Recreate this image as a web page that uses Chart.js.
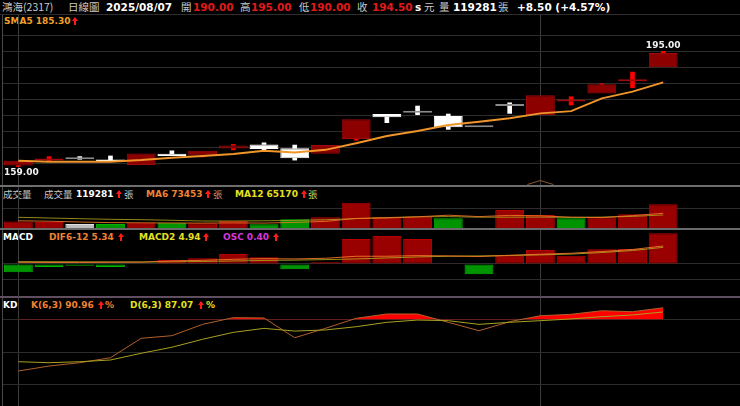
<!DOCTYPE html>
<html><head><meta charset="utf-8">
<script src="https://cdn.jsdelivr.net/npm/chart.js@4.4.1/dist/chart.umd.min.js"></script>
<style>
html,body{margin:0;padding:0;background:#000;}
body{width:740px;height:406px;position:relative;overflow:hidden;}
canvas{position:absolute;}
.t{position:absolute;white-space:nowrap;line-height:12px;}
.ln{position:absolute;}
.ar{position:absolute;width:6px;height:8px;}
.ar .h{position:absolute;left:0;top:0;width:0;height:0;border-left:3px solid transparent;border-right:3px solid transparent;border-bottom:4px solid #ff1a1a;}
.ar .s{position:absolute;left:2px;top:4px;width:2px;height:4px;background:#ff1a1a;}
</style></head><body>
<div id="ui"></div>
<canvas id="cPrice" width="737" height="170" style="left:3px;top:15px"></canvas>
<canvas id="cVol" width="737" height="41" style="left:3px;top:187px"></canvas>
<canvas id="cMacd" width="737" height="67" style="left:3px;top:230px"></canvas>
<canvas id="cKd" width="737" height="108" style="left:3px;top:298px"></canvas>
<script>
// ---------------- data ----------------
const stockName = '鴻海(2317)';
const year = '2025';
const dates = ['07/09','07/10','07/11','07/14','07/15','07/16','07/17','07/18','07/21','07/22','07/23',
               '07/24','07/25','07/28','07/29','07/30','07/31','08/01','08/04','08/05','08/06','08/07'];
const open  = [159.3,160.9,161.25,161.1,159.5,163.0,162.4,164.6,165.9,164.7,163.0,167.6,175.4,175.8,174.8,171.25,177.9,175.0,179.3,181.8,185.6,190.0];
const high  = [160.8,162.1,162.1,162.3,163.1,163.9,163.9,165.9,166.4,165.7,165.7,173.8,175.4,177.9,175.4,171.25,178.9,181.3,180.8,184.9,188.5,195.0];
const low   = [159.0,160.5,161.25,160.6,159.5,162.3,162.0,164.2,164.2,161.0,163.0,167.2,172.7,175.2,170.6,171.25,175.6,175.0,178.2,181.8,183.6,190.0];
const close = [160.8,161.25,161.25,160.6,163.1,162.3,163.9,165.6,164.5,161.6,165.7,173.8,174.4,175.8,171.25,171.25,177.9,181.3,179.7,184.7,186.0,194.5];
const sma5  = [160.8,160.5,160.5,160.5,161.0,161.75,162.3,162.9,163.9,163.4,164.2,166.25,168.5,170.1,172.0,173.0,174.05,175.6,176.3,180.3,182.4,185.3];
const volume  = [32000,30000,20000,20000,26500,26500,23500,35000,18500,43500,53500,126500,56500,56500,48500,0,90000,65000,48500,53500,68500,119281];
const volMA6  = [36000,34000,30000,27000,26000,25000,24500,25500,24500,28000,33000,48000,50000,56000,64000,57000,63000,61000,54000,52000,62000,73453];
const volMA12 = [53500,50000,46500,43500,41500,38500,35000,35000,36000,38000,41000,47000,52000,56000,57000,54000,54000,54500,53000,54500,58000,65170];
const dif   = [0.5,0.45,0.45,0.5,0.55,0.9,1.1,1.4,1.6,1.5,1.7,2.3,2.3,2.5,2.4,2.2,2.6,2.9,3.2,3.7,4.3,5.34];
const macd2 = [0.7,0.68,0.65,0.62,0.6,0.65,0.75,0.9,1.05,1.15,1.3,1.5,1.8,2.1,2.3,2.4,2.5,2.7,2.95,3.4,4.0,4.94];
const osc   = [-0.108,-0.039,-0.022,-0.039,0.007,0.052,0.074,0.130,0.087,-0.069,0.022,0.326,0.365,0.326,0.009,-0.134,0.108,0.182,0.108,0.192,0.195,0.40];
const kVal  = [32.4,37.0,40.1,44.7,62.7,65.1,75.6,81.8,81.5,63.2,71.9,81.2,85.2,85.2,77.5,69.7,78.1,83.6,84.9,88.2,87.3,90.96];
const dVal  = [41.0,40.1,41.0,42.6,48.8,54.4,61.8,68.2,71.9,69.4,70.4,73.4,77.5,79.6,79.0,75.6,77.5,79.0,80.6,82.7,84.3,87.07];
const emptySlots = ['', ''];
const priceGrid = [160,165,170,175,180,185,190,195,200];
const volGrid = [100000];
const macdGrid = [0,-0.2];
const kdGrid = [20,50,80];
// --------------------------------------

const last = close.length - 1;
const xLabels = dates.concat(emptySlots);

function put(x, cy, s, color, size, bold, fam){
  const d = document.createElement('div');
  d.className = 't';
  d.textContent = s;
  d.style.left = x + 'px';
  d.style.top = (cy - 6) + 'px';
  d.style.color = color;
  d.style.fontSize = size + 'px';
  d.style.fontWeight = bold ? 'bold' : 'normal';
  d.style.fontFamily = fam || '"DejaVu Sans", sans-serif';
  document.getElementById('ui').appendChild(d);
}
const CJK = '"Noto Sans CJK TC", sans-serif';
function arrow(x, cy){
  const d = document.createElement('div');
  d.className = 'ar';
  d.style.left = x + 'px'; d.style.top = (cy - 4) + 'px';
  d.innerHTML = '<div class="h"></div><div class="s"></div>';
  document.getElementById('ui').appendChild(d);
}
function hline(x, y, w, h, c){ const d=document.createElement('div'); d.className='ln'; d.style.cssText+=`left:${x}px;top:${y}px;width:${w}px;height:${h}px;background:${c}`; document.getElementById('ui').appendChild(d); }

// frame lines
hline(0, 14, 740, 1, '#2e2e2e');
hline(2, 15, 1, 391, '#4a4a4a');
hline(0, 185, 740, 2, '#6e6e6e');
hline(0, 228, 740, 2, '#6a6a6a');
hline(0, 296, 740, 2, '#5e4e60');

// header
const grey = '#c8c8c8', red = '#e01a1a';
put(2, 7, stockName, grey, 10.5, false, CJK);
put(68, 7, '日線圖', grey, 10.5, false, CJK);
put(106, 7, year + '/' + dates[last], '#ffffff', 10.5, true);
put(181, 7, '開', grey, 10.5, false, CJK);
put(193, 7, open[last].toFixed(2), red, 10.5, true);
put(240, 7, '高', grey, 10.5, false, CJK);
put(251, 7, high[last].toFixed(2), red, 10.5, true);
put(299, 7, '低', grey, 10.5, false, CJK);
put(310, 7, low[last].toFixed(2), red, 10.5, true);
put(357, 7, '收', grey, 10.5, false, CJK);
put(372, 7, close[last].toFixed(2), red, 10.5, true);
put(415, 7, 's', '#ffffff', 10.5, true);
put(424, 7, '元', grey, 10.5, false, CJK);
put(439, 7, '量', grey, 10.5, false, CJK);
put(453, 7, String(volume[last]), '#ffffff', 10.5, true);
put(498, 7, '張', grey, 10.5, false, CJK);
const chg = close[last] - close[last-1];
put(517, 7, (chg>=0?'+':'') + chg.toFixed(2) + ' (' + (chg>=0?'+':'') + (chg/close[last-1]*100).toFixed(2) + '%)', '#ffffff', 10.5, true);

// panel labels
const orange = '#f08232', yellow = '#e6e020', smaCol = '#f0a02a';
put(4, 21, 'SMA5 ' + sma5[last].toFixed(2), smaCol, 9, true); arrow(72, 21);
put(3, 194, '成交量', grey, 9.5, false, CJK);
put(44, 194, '成交量', grey, 9.5, false, CJK);
put(76, 194, String(volume[last]), '#ffffff', 9, true); arrow(116, 194);
put(124, 194, '張', grey, 9.5, false, CJK);
put(146, 194, 'MA6 ' + volMA6[last], orange, 9, true); arrow(205, 194);
put(213, 194, '張', '#c89070', 9.5, false, CJK);
put(235, 194, 'MA12 ' + volMA12[last], yellow, 9, true); arrow(301, 194);
put(308, 194, '張', '#d0d060', 9.5, false, CJK);
put(3, 237, 'MACD', '#ffffff', 9, true);
put(49, 237, 'DIF6-12 ' + dif[last].toFixed(2), orange, 9, true); arrow(118, 237);
put(139, 237, 'MACD2 ' + macd2[last].toFixed(2), yellow, 9, true); arrow(203, 237);
put(223, 237, 'OSC ' + osc[last].toFixed(2), '#d838d8', 9, true); arrow(273, 237);
put(3, 305, 'KD', '#ffffff', 9, true);
put(31, 305, 'K(6,3) ' + kVal[last].toFixed(2), orange, 9, true); arrow(98, 305);
put(105, 305, '%', orange, 9, true);
put(130, 305, 'D(6,3) ' + dVal[last].toFixed(2), yellow, 9, true); arrow(198, 305);
put(206, 305, '%', yellow, 9, true);

// ---------------- charts ----------------
function isMonthStart(i){ return i > 0 && i < dates.length && dates[i].slice(0,2) !== dates[i-1].slice(0,2); }
function monthLine(ctx){
  const i = ctx.index;
  return (i === 0 || isMonthStart(i)) ? '#3c3c3c' : 'rgba(0,0,0,0)';
}
function xScale(){
  return { type:'category', labels:xLabels, offset:true,
    grid:{offset:false, color:monthLine, drawTicks:false, lineWidth:1},
    ticks:{display:false}, border:{display:false}, afterFit(a){ a.height = 0; } };
}
function yScale(min, max, grid, extra){
  return Object.assign({ type:'linear', min:min, max:max, position:'left',
    grid:{color:'#2c2c2c', drawTicks:false, lineWidth:1},
    ticks:{display:false}, border:{display:false},
    afterBuildTicks(a){ a.ticks = grid.map(v => ({value:v})); },
    afterFit(a){ a.width = 0; } }, extra || {});
}
function baseOpts(scales, plugins){
  return { responsive:false, animation:false, devicePixelRatio:1, events:[],
    layout:{padding:0}, scales:scales,
    plugins:Object.assign({legend:{display:false}, tooltip:{enabled:false}}, plugins||{}) };
}

// price
const bodyLo = open.map((o,i) => Math.min(o, close[i]));
const bodyHi = open.map((o,i) => Math.max(o, close[i]));
const bodyCol = open.map((o,i) => close[i] > o ? '#8c0000' : (close[i] < o ? '#ffffff' : '#8a8a8a'));
const bodyBorder = open.map((o,i) => close[i] > o ? '#a00a0a' : (close[i] < o ? '#ffffff' : '#8a8a8a'));
const wickCol = open.map((o,i) => close[i] > o ? '#ff0000' : '#ffffff');

const extremaLabels = {
  id:'extrema',
  afterDatasetsDraw(chart){
    const ctx = chart.ctx, x = chart.scales.x, y = chart.scales.y;
    const hi = Math.max(...high), lo = Math.min(...low);
    const ih = high.indexOf(hi), il = low.indexOf(lo);
    ctx.save();
    ctx.font = 'bold 9px "DejaVu Sans"';
    ctx.fillStyle = '#f2f2f2';
    ctx.textAlign = 'center'; ctx.textBaseline = 'bottom';
    ctx.fillText(hi.toFixed(2), x.getPixelForValue(ih), y.getPixelForValue(hi) - 1);
    const s = lo.toFixed(2), w = ctx.measureText(s).width;
    ctx.textAlign = 'left'; ctx.textBaseline = 'top';
    ctx.fillText(s, Math.max(1, x.getPixelForValue(il) - w/2), y.getPixelForValue(lo) + 2);
    // month marker caret at the bottom edge
    const bottom = chart.chartArea.bottom;
    ctx.strokeStyle = '#8a5a30'; ctx.lineWidth = 1;
    for (let i = 1; i < dates.length; i++) {
      if (!isMonthStart(i)) continue;
      const cx = x.getPixelForValue(i);
      ctx.beginPath(); ctx.moveTo(cx - 13, bottom - 0.5); ctx.lineTo(cx, bottom - 4.5); ctx.lineTo(cx + 13, bottom - 0.5); ctx.stroke();
    }
    ctx.restore();
  }
};

new Chart(document.getElementById('cPrice'), {
  data:{ labels:xLabels, datasets:[
    {type:'line', data:sma5, borderColor:'#f0952a', borderWidth:2, pointRadius:0, tension:0, order:0},
    {type:'bar', data:open.map((o,i) => [bodyLo[i], bodyHi[i]]), backgroundColor:bodyCol, borderColor:bodyBorder,
      borderWidth:1, borderSkipped:false, barPercentage:0.94, categoryPercentage:1, minBarLength:2, grouped:false, order:1},
    {type:'bar', data:high.map((h,i) => h > bodyHi[i] ? [bodyHi[i], h] : null), backgroundColor:wickCol,
      barThickness:4, grouped:false, order:2},
    {type:'bar', data:low.map((l,i) => l < bodyLo[i] ? [l, bodyLo[i]] : null), backgroundColor:wickCol,
      barThickness:4, grouped:false, order:2}
  ]},
  options:baseOpts({ x:xScale(), y:yScale(153.22, 206.34, priceGrid) }),
  plugins:[extremaLabels]
});

// volume
const volCol = close.map((c,i) => i === 0 ? 'r' : (c > close[i-1] ? 'r' : (c < close[i-1] ? 'g' : 'n')));
const fillMap = {r:'#990000', g:'#009400', n:'#bdbdbd'};
const edgeMap = {r:'#b40000', g:'#00b400', n:'#e0e0e0'};
new Chart(document.getElementById('cVol'), {
  data:{ labels:xLabels, datasets:[
    {type:'line', data:volMA6, borderColor:'rgba(240,120,40,0.85)', borderWidth:1, pointRadius:0, order:0},
    {type:'line', data:volMA12, borderColor:'rgba(170,160,30,0.85)', borderWidth:1, pointRadius:0, order:0},
    {type:'bar', data:volume, backgroundColor:volCol.map(k => fillMap[k]), borderColor:volCol.map(k => edgeMap[k]),
      borderWidth:1, borderSkipped:'bottom', barPercentage:0.94, categoryPercentage:1, grouped:false, order:1}
  ]},
  options:baseOpts({ x:xScale(), y:yScale(0, 205000, volGrid) })
});

// MACD
const oscCol = osc.map(v => v >= 0 ? '#990000' : '#009400');
const oscEdge = osc.map(v => v >= 0 ? '#b40000' : '#00b400');
new Chart(document.getElementById('cMacd'), {
  data:{ labels:xLabels, datasets:[
    {type:'line', data:dif, yAxisID:'yl', borderColor:'rgba(240,120,40,0.9)', borderWidth:1, pointRadius:0, order:0},
    {type:'line', data:macd2, yAxisID:'yl', borderColor:'rgba(170,160,30,0.9)', borderWidth:1, pointRadius:0, order:0},
    {type:'bar', data:osc, yAxisID:'y', backgroundColor:oscCol, borderColor:oscEdge, borderWidth:1, borderSkipped:false,
      barPercentage:0.94, categoryPercentage:1, grouped:false, order:1}
  ]},
  options:baseOpts({ x:xScale(), y:yScale(-0.43, 0.443, macdGrid),
    yl:{type:'linear', min:-9.79, max:10.09, display:false} })
});

// KD
new Chart(document.getElementById('cKd'), {
  data:{ labels:xLabels, datasets:[
    {type:'line', data:kVal, borderColor:'#b0602a', borderWidth:1, pointRadius:0,
      fill:{value:80, above:'#ff0000', below:'rgba(0,0,0,0)'}, order:1},
    {type:'line', data:dVal, borderColor:'#a8a020', borderWidth:1, pointRadius:0, fill:false, order:0}
  ]},
  options:baseOpts({ x:xScale(), y:yScale(0, 100, kdGrid) })
});
</script>
</body></html>
